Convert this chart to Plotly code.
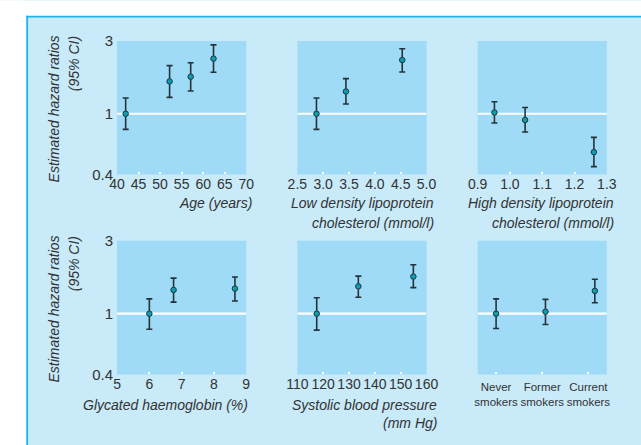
import plotly.graph_objects as go

W, H = 641, 445

# ---------------- data ----------------
age_x = [42.0, 52.2, 57.1, 62.4]
age_hr = [1.00, 1.63, 1.75, 2.30]
age_lo = [0.79, 1.28, 1.41, 1.87]
age_hi = [1.27, 2.07, 2.16, 2.83]

ldl_x = [2.87, 3.44, 4.53]
ldl_hr = [1.00, 1.40, 2.25]
ldl_lo = [0.79, 1.16, 1.88]
ldl_hi = [1.27, 1.70, 2.67]

hdl_x = [0.952, 1.047, 1.26]
hdl_hr = [1.02, 0.91, 0.56]
hdl_lo = [0.87, 0.76, 0.45]
hdl_hi = [1.20, 1.10, 0.70]

hba_x = [6.0, 6.75, 8.65]
hba_hr = [1.00, 1.43, 1.46]
hba_lo = [0.79, 1.19, 1.21]
hba_hi = [1.25, 1.71, 1.74]

sbp_x = [117.5, 133.6, 154.9]
sbp_hr = [1.00, 1.51, 1.75]
sbp_lo = [0.78, 1.28, 1.48]
sbp_hi = [1.27, 1.76, 2.09]

smoke_labels = ["Never<br>smokers", "Former<br>smokers", "Current<br>smokers"]
smoke_x = [0.0, 1.07, 2.14]
smoke_hr = [1.00, 1.03, 1.41]
smoke_lo = [0.80, 0.85, 1.18]
smoke_hi = [1.25, 1.24, 1.68]

y_ticks = [0.4, 1, 3]
y_ticktext = ["0.4", "1", "3"]

age_ticks = [40, 45, 50, 55, 60, 65, 70]
ldl_ticks = [2.5, 3.0, 3.5, 4.0, 4.5, 5.0]
hdl_ticks = [0.9, 1.0, 1.1, 1.2, 1.3]
hba_ticks = [5, 6, 7, 8, 9]
sbp_ticks = [110, 120, 130, 140, 150, 160]
smoke_ticks = [0, 1, 2]

# ---------------- styling ----------------
FONT = "Liberation Sans, Arial, sans-serif"
NARROW = "Liberation Sans Narrow, Arial Narrow, Liberation Sans, sans-serif"
TXT = "#333333"
PLOT_BG = "#9fdaf7"
FRAME_BG = "#c8eaf9"
FRAME_LINE = "#1fb2ec"
MARK = "#0a9fb0"
BAR = "#24333a"

cols_px = [(110, 244), (297, 431), (484, 618)]
rows_px = [(33.3, 172), (241, 380)]


def xd(a, b):
    return [a / W, b / W]


def yd(top, bot):
    return [1 - bot / H, 1 - top / H]


panels = [
    dict(x=age_x, hr=age_hr, lo=age_lo, hi=age_hi, rng=[40, 70], ticks=age_ticks, fmt="d", r=0, c=0),
    dict(x=ldl_x, hr=ldl_hr, lo=ldl_lo, hi=ldl_hi, rng=[2.5, 5.0], ticks=ldl_ticks, fmt=".1f", r=0, c=1),
    dict(x=hdl_x, hr=hdl_hr, lo=hdl_lo, hi=hdl_hi, rng=[0.9, 1.3], ticks=hdl_ticks, fmt=".1f", r=0, c=2),
    dict(x=hba_x, hr=hba_hr, lo=hba_lo, hi=hba_hi, rng=[5, 9], ticks=hba_ticks, fmt="d", r=1, c=0),
    dict(x=sbp_x, hr=sbp_hr, lo=sbp_lo, hi=sbp_hi, rng=[110, 160], ticks=sbp_ticks, fmt="d", r=1, c=1),
    dict(x=smoke_x, hr=smoke_hr, lo=smoke_lo, hi=smoke_hi, rng=[-0.4, 2.4], ticks=smoke_ticks,
         text=smoke_labels, r=1, c=2),
]

fig = go.Figure()
layout = {}

for i, p in enumerate(panels, start=1):
    sfx = "" if i == 1 else str(i)
    xa, ya = "x" + sfx, "y" + sfx
    # reference line at HR = 1
    fig.add_trace(go.Scatter(x=p["rng"], y=[1, 1], mode="lines", xaxis=xa, yaxis=ya,
                             line=dict(color="white", width=2.2), hoverinfo="skip", showlegend=False))
    fig.add_trace(go.Scatter(
        x=p["x"], y=p["hr"], mode="markers", xaxis=xa, yaxis=ya, showlegend=False,
        marker=dict(size=5.5, color=MARK, line=dict(color=BAR, width=1)),
        error_y=dict(type="data", symmetric=False,
                     array=[h - v for h, v in zip(p["hi"], p["hr"])],
                     arrayminus=[v - l for v, l in zip(p["hr"], p["lo"])],
                     color=BAR, thickness=1.6, width=3),
    ))
    xax = dict(domain=xd(*cols_px[p["c"]]), anchor=ya, range=p["rng"], showgrid=False,
               zeroline=False, showline=False, ticks="inside", ticklen=2, tickwidth=2,
               tickcolor="white", tickvals=p["ticks"], tickangle=0,
               tickfont=dict(family=FONT, size=14, color=TXT))
    if "text" in p:
        xax["ticktext"] = p["text"]
        xax["tickfont"] = dict(family=NARROW, size=11.5, color=TXT)
        xax["ticklabelstandoff"] = 4
    else:
        xax["tickformat"] = p["fmt"]
    yax = dict(domain=yd(*rows_px[p["r"]]), anchor=xa, type="log",
               range=[-0.39794, 0.47712], showgrid=False, zeroline=False, showline=False,
               ticks="", tickvals=y_ticks, ticktext=y_ticktext,
               showticklabels=(p["c"] == 0), ticklabelstandoff=3,
               tickfont=dict(family=FONT, size=15, color=TXT))
    layout["xaxis" + sfx] = xax
    layout["yaxis" + sfx] = yax

ann = []


def add_text(text, xpx, ypx, xanchor="right", yanchor="middle", angle=0):
    ann.append(dict(text=text, x=xpx / W, y=1 - ypx / H, xref="paper", yref="paper",
                    xanchor=xanchor, yanchor=yanchor, showarrow=False, textangle=angle,
                    font=dict(family=FONT, size=14, color=TXT)))


# axis titles (x)
add_text("<i>Age (years)</i>", 252, 202)
add_text("<i>Low density lipoprotein</i>", 441, 202)
add_text("<i>cholesterol (mmol/l)</i>", 441, 222)
add_text("<i>High density lipoprotein</i>", 627, 202)
add_text("<i>cholesterol (mmol/l)</i>", 627, 222)
add_text("<i>Glycated haemoglobin (%)</i>", 248, 412)
add_text("<i>Systolic blood pressure</i>", 444, 412)
add_text("<i>(mm Hg)</i>", 444, 430)

# y titles
for top in (25, 233):
    add_text("<i>Estimated hazard ratios</i>", 44.5, top, xanchor="center", yanchor="top", angle=-90)
    add_text("<i>(95% CI)</i>", 65, top + 1, xanchor="center", yanchor="top", angle=-90)

shapes = [
    dict(type="rect", xref="paper", yref="paper", x0=-0.02, x1=16 / W, y0=-0.02, y1=1.02,
         fillcolor="white", line=dict(width=0), layer="below"),
    dict(type="rect", xref="paper", yref="paper", x0=-0.02, x1=1.02, y0=1 - 8 / H, y1=1.02,
         fillcolor="white", line=dict(width=0), layer="below"),
    dict(type="line", xref="paper", yref="paper", x0=16.8 / W, x1=16.8 / W, y0=-0.02, y1=1 - 7 / H,
         line=dict(color=FRAME_LINE, width=1.8), layer="below"),
    dict(type="line", xref="paper", yref="paper", x0=16 / W, x1=1.02, y0=1 - 8 / H, y1=1 - 8 / H,
         line=dict(color=FRAME_LINE, width=1.8), layer="below"),
]

fig.update_layout(
    width=W, height=H, margin=dict(l=0, r=0, t=0, b=0),
    paper_bgcolor=FRAME_BG, plot_bgcolor=PLOT_BG,
    annotations=ann, shapes=shapes, showlegend=False,
    font=dict(family=FONT, color=TXT),
    **layout,
)

fig.write_html("out.html", config={"displayModeBar": False},
               post_script="document.body.style.margin='0';document.body.style.overflow='hidden';")
